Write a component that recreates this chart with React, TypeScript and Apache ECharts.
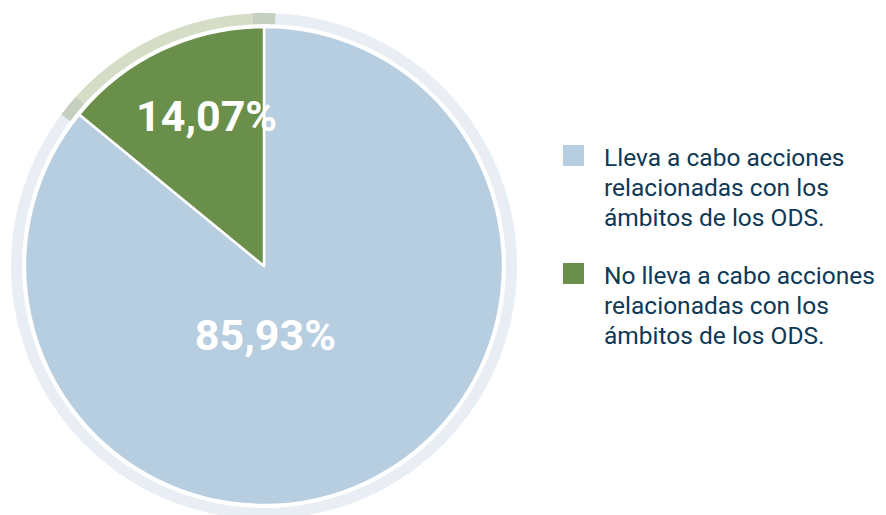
import React, { useEffect, useRef } from "react";
import * as echarts from "echarts";

const categories = [
  "Lleva a cabo acciones\nrelacionadas con los\námbitos de los ODS.",
  "No lleva a cabo acciones\nrelacionadas con los\námbitos de los ODS.",
];
const values = [85.93, 14.07];
const labelTexts = ["85,93%", "14,07%"];

const pieColors = ["#b7cde0", "#6a8f4a"];
const ringColors = ["#e8eef4", "#d6ddc7"];
const overlapColor = "#c6d0c0";

export default function App() {
  const ref = useRef<HTMLDivElement>(null);
  useEffect(() => {
    if (!ref.current) return;
    const chart = echarts.init(ref.current, null, { renderer: "svg" });
    const total = values.reduce((a, b) => a + b, 0);
    const ext = 0.72;
    const center = [256, 258];
    const labelOffsets = [
      [-51, -42],
      [-5, -39],
    ];
    const overlapData: any[] = [];
    values.forEach((v) => {
      overlapData.push({ value: (2 * ext * total) / 100, itemStyle: { color: overlapColor } });
      overlapData.push({ value: v - (2 * ext * total) / 100, itemStyle: { color: "rgba(0,0,0,0)" } });
    });
    const option: any = {
      animation: false,
      series: [
        {
          type: "pie",
          center,
          radius: [242, 253],
          startAngle: 90,
          clockwise: true,
          silent: true,
          label: { show: false },
          labelLine: { show: false },
          itemStyle: { borderWidth: 0 },
          data: values.map((v, i) => ({ value: v, name: categories[i], itemStyle: { color: ringColors[i] } })),
          z: 1,
        },
        {
          type: "pie",
          center,
          radius: [242, 253],
          startAngle: 90 + ext * 3.6,
          clockwise: true,
          silent: true,
          label: { show: false },
          labelLine: { show: false },
          itemStyle: { borderWidth: 0 },
          data: overlapData,
          z: 2,
        },
        {
          type: "pie",
          center,
          radius: [0, 239],
          startAngle: 90,
          clockwise: true,
          silent: true,
          itemStyle: { borderColor: "#ffffff", borderWidth: 2.5 },
          labelLine: { show: false },
          data: values.map((v, i) => ({
            value: v,
            name: categories[i],
            itemStyle: { color: pieColors[i] },
            label: {
              show: true,
              position: "inside",
              formatter: labelTexts[i],
              color: "#ffffff",
              fontFamily: "Roboto",
              fontWeight: "bold",
              fontSize: 43,
              offset: labelOffsets[i],
            },
          })),
          z: 3,
        },
      ],
      graphic: categories.flatMap((c, i) => [
        {
          type: "rect",
          left: 555,
          top: 137 + i * 118,
          shape: { width: 21, height: 21 },
          style: { fill: pieColors[i] },
        },
        {
          type: "text",
          left: 596,
          top: 134 + i * 118,
          style: {
            text: c,
            fill: "#0d3856",
            font: "24.5px Roboto",
            lineHeight: 30,
          },
        },
      ]),
    };
    chart.setOption(option);
    return () => chart.dispose();
  }, []);
  return <div ref={ref} style={{ width: 878, height: 507 }} />;
}
